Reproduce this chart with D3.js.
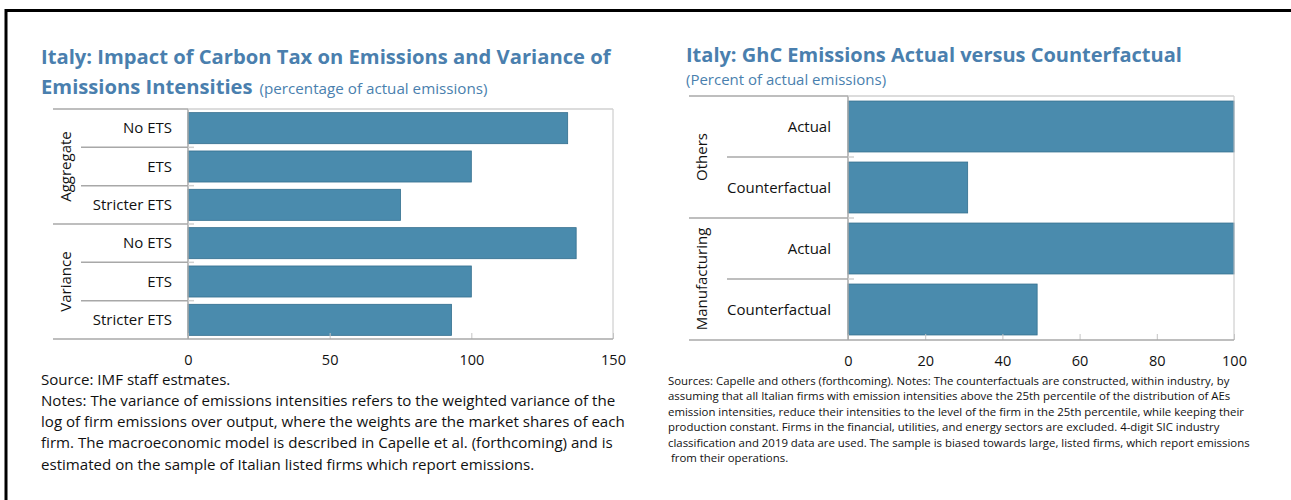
<!DOCTYPE html>
<meta charset="utf-8">
<style>
body { margin: 0; background: #fff; }
svg text { font-family: "Open Sans", "Noto Sans", sans-serif; fill: #111; }
.title { font-weight: bold; fill: #4a7fae; }
.subtitle { font-weight: normal; fill: #4a7fae; }
.row-label, .group-label { font-size: 15px; }
.tick text { font-size: 14.5px; fill: #111; }
.tick line { stroke: #c4c4c4; }
.sep { stroke: #a8a8a8; stroke-width: 1.5; }
.sep-light { stroke: #d0d0d0; stroke-width: 1.5; }
.border { stroke: #c4c4c4; stroke-width: 1; }
.bar { fill: #4a8bad; stroke: #336f8e; stroke-width: 0.8; }
.note-left { font-size: 15.1px; }
.note-right { font-size: 11.4px; white-space: pre; }
</style>
<svg width="1291" height="500"></svg>
<script src="https://cdn.jsdelivr.net/npm/d3@7"></script>
<script>

// left panel
var leftGroups = ["Aggregate", "Variance"];
var leftRows = ["No ETS", "ETS", "Stricter ETS"];
var aggregateValues = [134, 100, 75];
var varianceValues = [137, 100, 93];
var leftTicks = [0, 50, 100, 150];

// right panel
var rightGroups = ["Others", "Manufacturing"];
var rightRows = ["Actual", "Counterfactual"];
var othersValues = [100, 31];
var manufacturingValues = [100, 49];
var rightTicks = [0, 20, 40, 60, 80, 100];

var leftNotes = [
    "Source: IMF staff estmates.",
    "Notes: The variance of emissions intensities refers to the weighted variance of the",
    "log of firm emissions over output, where the weights are the market shares of each",
    "firm. The macroeconomic model is described in Capelle et al. (forthcoming) and is",
    "estimated on the sample of Italian listed firms which report emissions."
];
var rightNotes = [
    "Sources: Capelle and others (forthcoming). Notes: The counterfactuals are constructed, within industry, by",
    "assuming that all Italian firms with emission intensities above the 25th percentile of the distribution of AEs",
    "emission intensities, reduce their intensities to the level of the firm in the 25th percentile, while keeping their",
    "production constant. Firms in the financial, utilities, and energy sectors are excluded. 4-digit SIC industry",
    "classification and 2019 data are used. The sample is biased towards large, listed firms, which report emissions",
    " from their operations."
];

var svg = d3.select("svg");

// frame
svg.append("line").attr("x1", 5).attr("x2", 1291).attr("y1", 10.5).attr("y2", 10.5)
    .attr("stroke", "#000").attr("stroke-width", 3);
svg.append("line").attr("x1", 6).attr("x2", 6).attr("y1", 9).attr("y2", 500)
    .attr("stroke", "#000").attr("stroke-width", 3);

function drawPanel(o) {
    var rows = [];
    o.groups.forEach(function(g, gi) {
        o.rows.forEach(function(r, ri) {
            rows.push({ group: g, gi: gi, label: r, ri: ri, value: o.values[gi][ri], key: gi + "|" + ri });
        });
    });

    var x = d3.scaleLinear().domain([0, o.max]).range([o.axisX, o.right]);
    var y = d3.scaleBand()
        .domain(rows.map(function(d) { return d.key; }))
        .range([o.top, o.bottom])
        .paddingInner(o.pad)
        .paddingOuter(o.pad / 2);
    var step = y.step();
    function rowTop(d) { return y(d.key) - step * o.pad / 2; }

    var g = svg.append("g");

    // bars
    g.selectAll("rect.bar").data(rows).enter().append("rect")
        .attr("class", "bar")
        .attr("x", x(0))
        .attr("y", function(d) { return y(d.key); })
        .attr("width", function(d) { return x(d.value) - x(0); })
        .attr("height", y.bandwidth());

    // x axis with short inward ticks
    var ax = g.append("g")
        .attr("transform", "translate(0," + o.bottom + ")")
        .call(d3.axisBottom(x).tickValues(o.ticks).tickSizeInner(-6).tickSizeOuter(0).tickPadding(16));
    ax.select(".domain").remove();

    // right border and category axis
    g.append("line").attr("class", "border")
        .attr("x1", o.right).attr("x2", o.right).attr("y1", o.top).attr("y2", o.bottom);
    g.append("line").attr("class", "sep")
        .attr("x1", o.axisX).attr("x2", o.axisX).attr("y1", o.top).attr("y2", o.bottom);

    // top and bottom rules
    g.append("line").attr("class", "sep")
        .attr("x1", o.lineX0).attr("x2", o.axisX).attr("y1", o.top).attr("y2", o.top);
    g.append("line").attr("class", "sep-light")
        .attr("x1", o.axisX).attr("x2", o.right).attr("y1", o.top).attr("y2", o.top);
    g.append("line").attr("class", "sep")
        .attr("x1", o.lineX0).attr("x2", o.right).attr("y1", o.bottom).attr("y2", o.bottom);

    // row separators
    var inner = rows.filter(function(d) { return d.gi + d.ri > 0; });
    g.selectAll("line.rowsep").data(inner).enter().append("line")
        .attr("class", "sep")
        .attr("x1", function(d) { return d.ri == 0 ? o.lineX0 : o.rowX0; })
        .attr("x2", o.axisX)
        .attr("y1", rowTop).attr("y2", rowTop);
    g.selectAll("line.rowtick").data(inner).enter().append("line")
        .attr("class", "sep-light")
        .attr("x1", o.axisX).attr("x2", o.axisX + 6)
        .attr("y1", rowTop).attr("y2", rowTop);

    // row labels
    g.selectAll("text.row-label").data(rows).enter().append("text")
        .attr("class", "row-label")
        .attr("x", o.labelX)
        .attr("y", function(d) { return y(d.key) + y.bandwidth() / 2; })
        .attr("dy", "0.35em")
        .attr("text-anchor", "end")
        .text(function(d) { return d.label; });

    // group labels
    var n = o.rows.length;
    g.selectAll("text.group-label").data(o.groups).enter().append("text")
        .attr("class", "group-label")
        .attr("text-anchor", "middle")
        .attr("dy", "0.35em")
        .attr("transform", function(d, i) {
            var cy = o.top + step * n * (i + 0.5);
            return "translate(" + o.groupX + "," + cy + ") rotate(-90)";
        })
        .text(function(d) { return d; });
}

drawPanel({
    groups: leftGroups, rows: leftRows, values: [aggregateValues, varianceValues],
    ticks: leftTicks, max: 150,
    top: 109, bottom: 339, axisX: 188, right: 613,
    lineX0: 53, rowX0: 81, labelX: 172, groupX: 66, pad: 0.19
});

drawPanel({
    groups: rightGroups, rows: rightRows, values: [othersValues, manufacturingValues],
    ticks: rightTicks, max: 100,
    top: 96, bottom: 340, axisX: 848, right: 1234,
    lineX0: 689, rowX0: 727, labelX: 831, groupX: 702, pad: 0.165
});

// titles
svg.append("text").attr("class", "title").attr("x", 41).attr("y", 64).style("font-size", "20.2px")
    .text("Italy: Impact of Carbon Tax on Emissions and Variance of");
var t2 = svg.append("text").attr("class", "title").attr("x", 41).attr("y", 94).style("font-size", "20.2px");
t2.append("tspan").text("Emissions Intensities");
t2.append("tspan").attr("class", "subtitle").style("font-size", "15.2px").attr("dx", 7)
    .text("(percentage of actual emissions)");

svg.append("text").attr("class", "title").attr("x", 686).attr("y", 62).style("font-size", "20px")
    .text("Italy: GhC Emissions Actual versus Counterfactual");
svg.append("text").attr("class", "subtitle").attr("x", 686).attr("y", 84.5).style("font-size", "15px")
    .text("(Percent of actual emissions)");

// notes
svg.selectAll("text.note-left").data(leftNotes).enter().append("text")
    .attr("class", "note-left")
    .attr("x", 41)
    .attr("y", function(d, i) { return 384.5 + i * 21.3; })
    .text(function(d) { return d; });

svg.selectAll("text.note-right").data(rightNotes).enter().append("text")
    .attr("class", "note-right")
    .attr("x", 668)
    .attr("y", function(d, i) { return 385 + i * 15.4; })
    .text(function(d) { return d; });

</script>
